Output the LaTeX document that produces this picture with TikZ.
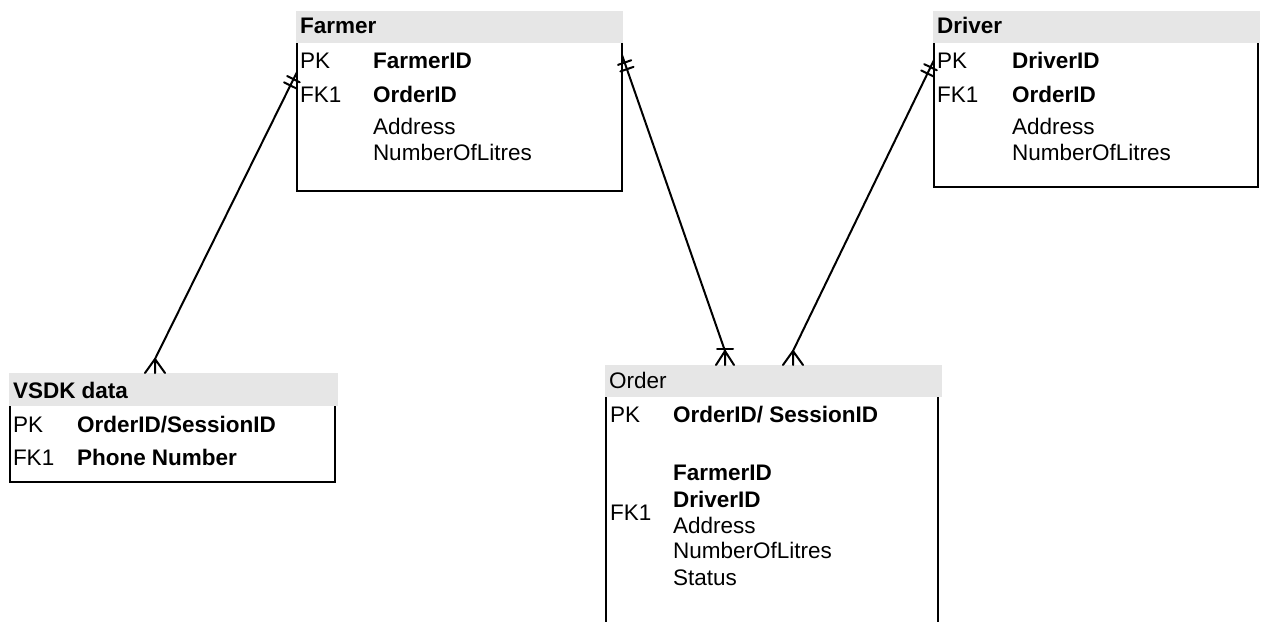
\documentclass[tikz,border=0pt]{standalone}
\usepackage{fontspec}
\setmainfont{Liberation Sans}
\usetikzlibrary{calc,fit}
\definecolor{hdr}{HTML}{E6E6E6}
\newcommand\onemark[3]{%
  \draw[conn] ($(#1)!#3!(#2)!7pt!90:(#2)$) -- ($(#1)!#3!(#2)!7pt!-90:(#2)$);}
\begin{document}
\begin{tikzpicture}[x=1pt,y=-1pt,
  head/.style={fill=hdr, draw=none, inner sep=0pt, outer sep=0pt},
  body/.style={draw=none, inner sep=0pt, outer sep=0pt},
  edge/.style={line width=2pt, black},
  conn/.style={line width=2pt, black, line cap=round},
  txt/.style={anchor=base west, inner sep=0pt, outer sep=0pt, font=\fontsize{22.5}{26}\selectfont},
  btxt/.style={txt, font=\fontsize{22.5}{26}\selectfont\bfseries}]
\useasboundingbox[fill=white] (0,0) rectangle (1267,622);

% ---------- Farmer ----------
\node[head, fit={(296,11) (623,43)}] (farmerhead) {};
\node[body, fit={(297,43) (622,191)}] (farmer) {};
\draw[edge] (farmer.north west) -- (farmer.south west) -- (farmer.south east) -- (farmer.north east);
\node[btxt] (fh) at (300,33) {Farmer};
\node[txt]  (fpk) at (300,68) {PK};
\node[btxt] (fpkv) at (373,68) {FarmerID};
\node[txt]  (ffk) at (300,102) {FK1};
\node[btxt] (ffkv) at (373,102) {OrderID};
\node[txt]  (fa) at (373,134) {Address};
\node[txt]  (fn) at (373,160) {NumberOfLitres};

% ---------- Driver ----------
\node[head, fit={(933,11) (1260,43)}] (driverhead) {};
\node[body, fit={(934,43) (1258,187)}] (driver) {};
\draw[edge] (driver.north west) -- (driver.south west) -- (driver.south east) -- (driver.north east);
\node[btxt] (dh) at (937,33) {Driver};
\node[txt]  (dpk) at (937,68) {PK};
\node[btxt] (dpkv) at (1012,68) {DriverID};
\node[txt]  (dfk) at (937,102) {FK1};
\node[btxt] (dfkv) at (1012,102) {OrderID};
\node[txt]  (da) at (1012,134) {Address};
\node[txt]  (dn) at (1012,160) {NumberOfLitres};

% ---------- VSDK data ----------
\node[head, fit={(9,373) (338,406)}] (vsdkhead) {};
\node[body, fit={(10,406) (335,482)}] (vsdk) {};
\draw[edge] (vsdk.north west) -- (vsdk.south west) -- (vsdk.south east) -- (vsdk.north east);
\node[btxt] (vh) at (13,398) {VSDK data};
\node[txt]  (vpk) at (13,432) {PK};
\node[btxt] (vpkv) at (77,432) {OrderID/SessionID};
\node[txt]  (vfk) at (13,465) {FK1};
\node[btxt] (vfkv) at (77,465) {Phone Number};

% ---------- Order ----------
\node[head, fit={(605,365) (942,397)}] (orderhead) {};
\node[body, fit={(606,397) (938,622)}] (order) {};
\draw[edge] (order.north west) -- (order.south west);
\draw[edge] (order.north east) -- (order.south east);
\node[txt]  (oh) at (609,388) {Order};
\node[txt]  (opk) at (610,422) {PK};
\node[btxt] (opkv) at (673,422) {OrderID/ SessionID};
\node[btxt] (of1) at (673,480) {FarmerID};
\node[btxt] (of2) at (673,507) {DriverID};
\node[txt]  (ofk) at (610,520) {FK1};
\node[txt]  (oa) at (673,533) {Address};
\node[txt]  (on) at (673,558) {NumberOfLitres};
\node[txt]  (os) at (673,585) {Status};

% ---------- connector end points ----------
\coordinate (fL) at ($(farmer.north west)+(0,29)$);
\coordinate (fR) at ($(farmer.north east)+(0,12)$);
\coordinate (dL) at ($(driver.north west)+(0,17)$);
\coordinate (vC) at ($(vsdkhead.north west)+(146,-14)$);
\coordinate (oC1) at ($(orderhead.north west)+(120,-14)$);
\coordinate (oC2) at ($(orderhead.north west)+(188,-14)$);

% Farmer -- VSDK data
\draw[conn] (fL) -- (vC);
\onemark{fL}{vC}{8pt}
\onemark{fL}{vC}{15pt}
\draw[conn] (vC) -- ++(-10,14) (vC) -- ++(0,14) (vC) -- ++(10,14);

% Farmer -- Order
\draw[conn] (fR) -- (oC1);
\onemark{fR}{oC1}{8pt}
\onemark{fR}{oC1}{15pt}
\draw[conn] ($(oC1)+(-8,-2)$) -- ++(16,0);
\draw[conn] (oC1) -- ++(-9,14) (oC1) -- ++(0,14) (oC1) -- ++(9,14);

% Driver -- Order
\draw[conn] (dL) -- (oC2);
\onemark{dL}{oC2}{8pt}
\onemark{dL}{oC2}{15pt}
\draw[conn] (oC2) -- ++(-10,14) (oC2) -- ++(0,14) (oC2) -- ++(10,14);
\end{tikzpicture}
\end{document}
